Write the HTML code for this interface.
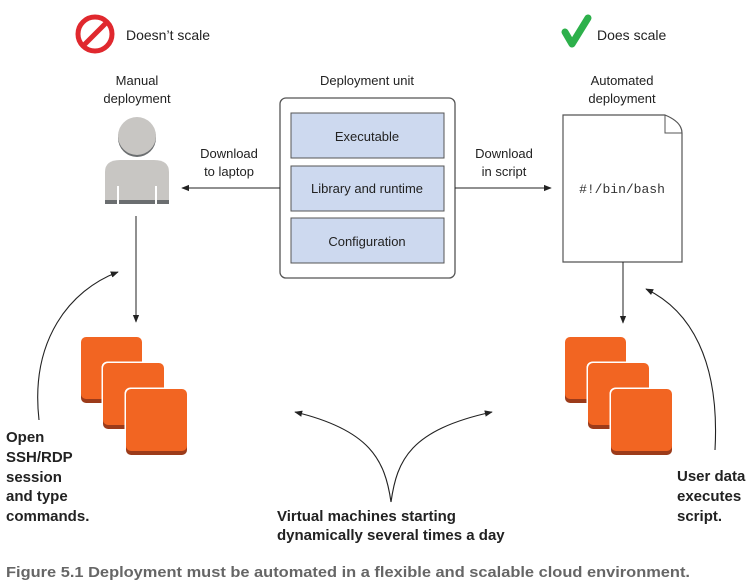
<!DOCTYPE html>
<html><head><meta charset="utf-8"><style>
body{margin:0;background:#fff;}
svg{display:block;font-family:"Liberation Sans",sans-serif;}
.b{font-family:"Liberation Sans",sans-serif;font-weight:bold;font-size:15px;fill:#222;}
</style></head><body>
<svg width="752" height="584" viewBox="0 0 752 584" xmlns="http://www.w3.org/2000/svg">
<defs>
<marker id="ah" viewBox="0 0 10 10" refX="9" refY="5" markerWidth="8" markerHeight="8" orient="auto-start-reverse" markerUnits="userSpaceOnUse"><path d="M0,1 L10,5 L0,9 Z" fill="#222"/></marker>
<g id="sq">
<rect x="-1.5" y="-1.5" width="64" height="70" rx="6" fill="#fff"/>
<rect x="0" y="4" width="61" height="62" rx="5" fill="#9c3b1a"/>
<rect x="0" y="0" width="61" height="62" rx="5" fill="#f26522"/>
</g>
</defs>
<circle cx="95" cy="34" r="17" fill="none" stroke="#e0282e" stroke-width="5"/>
<line x1="83" y1="46" x2="107" y2="22" stroke="#e0282e" stroke-width="5"/>
<text x="126" y="40" font-size="14" fill="#222">Doesn’t scale</text>
<path d="M565,32 L572,44 L588,18" fill="none" stroke="#2db04b" stroke-width="7" stroke-linecap="round" stroke-linejoin="round"/>
<text x="597" y="40" font-size="14" fill="#222">Does scale</text>

<text x="137" y="85" font-size="13" fill="#222" text-anchor="middle">Manual</text>
<text x="137" y="103" font-size="13" fill="#222" text-anchor="middle">deployment</text>
<text x="367" y="85" font-size="13" fill="#222" text-anchor="middle">Deployment unit</text>
<text x="622" y="85" font-size="13" fill="#222" text-anchor="middle">Automated</text>
<text x="622" y="103" font-size="13" fill="#222" text-anchor="middle">deployment</text>

<circle cx="137" cy="138" r="19" fill="#6b6e70"/>
<circle cx="137" cy="136" r="19" fill="#c8c6c3"/>
<path d="M105,200 L105,172 Q105,160 120,160 L154,160 Q169,160 169,172 L169,200 Z" fill="#c8c6c3"/>
<rect x="105" y="200" width="64" height="4" fill="#6b6e70"/>
<rect x="117" y="186" width="2" height="18" fill="#fff"/>
<rect x="155" y="186" width="2" height="18" fill="#fff"/>

<rect x="280" y="98" width="175" height="180" rx="6" fill="#fff" stroke="#555" stroke-width="1.3"/>
<rect x="291" y="113" width="153" height="45" fill="#cdd9ef" stroke="#555" stroke-width="1"/>
<rect x="291" y="166" width="153" height="45" fill="#cdd9ef" stroke="#555" stroke-width="1"/>
<rect x="291" y="218" width="153" height="45" fill="#cdd9ef" stroke="#555" stroke-width="1"/>
<text x="367" y="141" font-size="13" fill="#222" text-anchor="middle">Executable</text>
<text x="367" y="193" font-size="13" fill="#222" text-anchor="middle">Library and runtime</text>
<text x="367" y="246" font-size="13" fill="#222" text-anchor="middle">Configuration</text>

<line x1="280" y1="188" x2="182" y2="188" stroke="#222" stroke-width="1" marker-end="url(#ah)"/>
<text x="229" y="158" font-size="13" fill="#222" text-anchor="middle">Download</text>
<text x="229" y="176" font-size="13" fill="#222" text-anchor="middle">to laptop</text>
<line x1="455" y1="188" x2="551" y2="188" stroke="#222" stroke-width="1" marker-end="url(#ah)"/>
<text x="504" y="158" font-size="13" fill="#222" text-anchor="middle">Download</text>
<text x="504" y="176" font-size="13" fill="#222" text-anchor="middle">in script</text>

<path d="M563,115 L665,115 Q682,122 682,133 L682,262 L563,262 Z" fill="#fff" stroke="#555" stroke-width="1.2"/>
<path d="M665,115 L665,133 L682,133" fill="none" stroke="#555" stroke-width="1"/>
<text x="622" y="193" font-family="Liberation Mono, monospace" font-size="13" fill="#333" text-anchor="middle">#!/bin/bash</text>

<line x1="136" y1="216" x2="136" y2="322" stroke="#222" stroke-width="1" marker-end="url(#ah)"/>
<line x1="623" y1="262" x2="623" y2="323" stroke="#222" stroke-width="1" marker-end="url(#ah)"/>

<use href="#sq" x="81" y="337"/>
<use href="#sq" x="103" y="363"/>
<use href="#sq" x="126" y="389"/>
<use href="#sq" x="565" y="337"/>
<use href="#sq" x="588" y="363"/>
<use href="#sq" x="611" y="389"/>

<path d="M39,420 C30,340 70,290 118,272" fill="none" stroke="#222" stroke-width="1.1" marker-end="url(#ah)"/>
<path d="M715,450 C720,360 690,310 646,289" fill="none" stroke="#222" stroke-width="1.1" marker-end="url(#ah)"/>
<path d="M391,502 C385,460 370,430 295,412" fill="none" stroke="#222" stroke-width="1.1" marker-end="url(#ah)"/>
<path d="M391,502 C397,460 410,430 492,412" fill="none" stroke="#222" stroke-width="1.1" marker-end="url(#ah)"/>

<text class="b" x="6" y="442">Open</text>
<text class="b" x="6" y="462">SSH/RDP</text>
<text class="b" x="6" y="482">session</text>
<text class="b" x="6" y="501">and type</text>
<text class="b" x="6" y="521">commands.</text>
<text class="b" x="677" y="481">User data</text>
<text class="b" x="677" y="501">executes</text>
<text class="b" x="677" y="521">script.</text>
<text class="b" x="277" y="521">Virtual machines starting</text>
<text class="b" x="277" y="540">dynamically several times a day</text>

<text x="6" y="577" font-size="15" font-weight="bold" fill="#666" textLength="684" lengthAdjust="spacingAndGlyphs">Figure 5.1    Deployment must be automated in a flexible and scalable cloud environment.</text>
</svg>
</body></html>
